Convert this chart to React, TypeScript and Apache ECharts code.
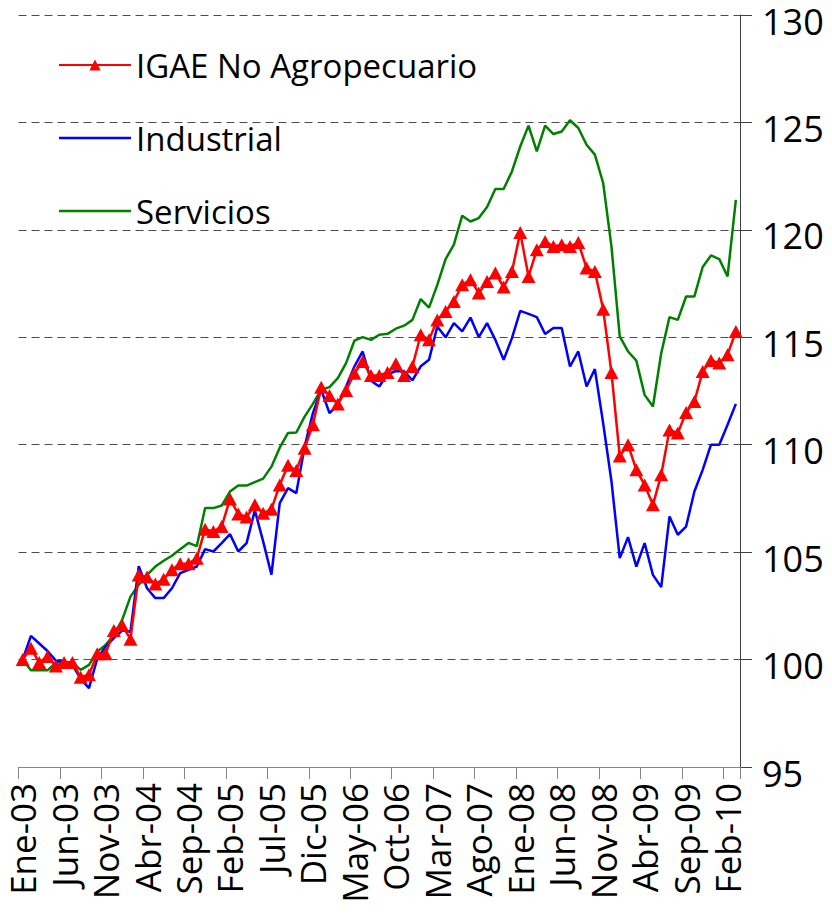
import React, { useEffect, useRef } from "react";
import * as echarts from "echarts";

const monthNames = ["Ene", "Feb", "Mar", "Abr", "May", "Jun", "Jul", "Ago", "Sep", "Oct", "Nov", "Dic"];
const yearSuffixes = ["03", "04", "05", "06", "07", "08", "09", "10"];
const categories: string[] = [];
for (const y of yearSuffixes) {
  for (const m of monthNames) {
    if (categories.length < 87) categories.push(`${m}-${y}`);
  }
}

const igae = [
  100.0, 100.53, 99.86, 100.14, 99.7, 99.86, 99.86, 99.18, 99.29, 100.27,
  100.27, 101.35, 101.6, 100.95, 103.94, 103.84, 103.52, 103.74, 104.18, 104.46,
  104.46, 104.72, 106.07, 105.96, 106.19, 107.47, 106.78, 106.63, 107.2, 106.81,
  107.0, 108.13, 109.04, 108.8, 109.84, 110.93, 112.68, 112.29, 111.9, 112.52,
  113.33, 113.87, 113.22, 113.22, 113.36, 113.77, 113.22, 113.64, 115.12, 114.88,
  115.81, 116.2, 116.67, 117.44, 117.68, 117.06, 117.6, 117.99, 117.34, 118.06,
  119.88, 117.83, 119.07, 119.46, 119.23, 119.31, 119.23, 119.41, 118.22, 118.06,
  116.31, 113.36, 109.48, 110.0, 108.83, 108.13, 107.2, 108.6, 110.69, 110.54,
  111.5, 112.01, 113.41, 113.92, 113.8, 114.19, 115.27,
];

const industrial = [
  100.0, 101.1, 100.75, 100.4, 99.95, 99.9, 99.75, 99.1, 98.67, 100.05,
  100.6, 101.0, 101.35, 101.3, 104.35, 103.32, 102.86, 102.86, 103.32, 104.02,
  104.18, 104.33, 105.14, 105.03, 105.42, 105.84, 105.03, 105.42, 106.95, 105.5,
  103.95, 107.28, 107.98, 107.75, 109.92, 111.47, 112.56, 111.47, 111.86, 112.7,
  113.64, 114.34, 112.98, 112.71, 113.28, 113.43, 113.41, 113.0, 113.65, 113.95,
  115.5, 115.0, 115.66, 115.27, 115.92, 115.01, 115.66, 114.88, 113.95, 114.96,
  116.23, 116.09, 115.94, 115.15, 115.43, 115.43, 113.64, 114.34, 112.71, 113.52,
  111.0, 108.3, 104.72, 105.7, 104.33, 105.42, 103.94, 103.37, 106.66, 105.81,
  106.19, 107.82, 108.83, 110.0, 110.0, 110.93, 111.9,
];

const servicios = [
  100.0, 99.5, 99.5, 99.5, 99.85, 99.9, 99.85, 99.52, 99.75, 100.37,
  100.68, 101.15, 101.85, 102.93, 103.48, 103.94, 104.33, 104.6, 104.83, 105.14,
  105.43, 105.28, 107.05, 107.05, 107.17, 107.82, 108.1, 108.1, 108.26, 108.42,
  108.98, 109.86, 110.55, 110.57, 111.31, 111.9, 112.56, 112.68, 113.1, 113.8,
  114.84, 115.01, 114.88, 115.12, 115.16, 115.4, 115.54, 115.81, 116.78, 116.38,
  117.44, 118.64, 119.31, 120.66, 120.39, 120.55, 121.06, 121.9, 121.9, 122.72,
  123.88, 124.85, 123.65, 124.85, 124.46, 124.58, 125.1, 124.74, 123.96, 123.5,
  122.18, 119.23, 115.04, 114.34, 113.91, 112.32, 111.78, 114.26, 115.94, 115.81,
  116.9, 116.9, 118.27, 118.81, 118.64, 117.83, 121.4,
];

const seriesNames = ["IGAE No Agropecuario", "Industrial", "Servicios"];
const yMin = 95;
const yMax = 130;
const yInterval = 5;

const FONT = "'Open Sans', 'Noto Sans', sans-serif";
// legend icon: a thin horizontal bar centred in a 72x14 box
const LINE_ICON =
  "path://M0,0L72,0L72,0.05L0,0.05ZM0,5.75L72,5.75L72,8.25L0,8.25ZM0,13.95L72,13.95L72,14L0,14Z";

export default function App() {
  const ref = useRef<HTMLDivElement>(null);

  useEffect(() => {
    if (!ref.current) return;
    const chart = echarts.init(ref.current, null, { renderer: "svg" });
    chart.setOption({
      animation: false,
      backgroundColor: "#ffffff",
      textStyle: { fontFamily: FONT },
      grid: { left: 18.5, right: 92, top: 15, bottom: 148, containLabel: false },
      legend: {
        orient: "vertical",
        left: 58,
        top: 45,
        padding: 0,
        itemWidth: 72,
        itemHeight: 14,
        itemGap: 33,
        data: [
          { name: seriesNames[0] },
          { name: seriesNames[1], icon: LINE_ICON, itemStyle: { color: "#0000ff" } },
          { name: seriesNames[2], icon: LINE_ICON, itemStyle: { color: "#008000" } },
        ],
        textStyle: { fontFamily: FONT, fontSize: 33, lineHeight: 40, color: "#000" },
      },
      xAxis: {
        type: "category",
        data: categories,
        boundaryGap: true,
        axisLine: { show: true, lineStyle: { color: "#868686", width: 1 } },
        axisTick: { show: true, length: 12, interval: 4, lineStyle: { color: "#868686" } },
        axisLabel: {
          interval: 4,
          rotate: 90,
          margin: 16,
          fontSize: 35,
          fontFamily: FONT,
          color: "#000",
        },
        splitLine: { show: false },
      },
      yAxis: {
        type: "value",
        position: "right",
        min: yMin,
        max: yMax,
        interval: yInterval,
        axisLine: { show: true, lineStyle: { color: "#404040", width: 1 } },
        axisTick: { show: true, length: 12, lineStyle: { color: "#404040" } },
        axisLabel: {
          fontSize: 36,
          fontFamily: FONT,
          color: "#000",
          margin: 22,
          verticalAlign: "top",
          lineHeight: 12,
        },
        splitLine: {
          show: true,
          lineStyle: { color: "#4d4d4d", width: 1, type: [8, 5] },
        },
      },
      series: [
        {
          name: seriesNames[2],
          type: "line",
          data: servicios,
          symbol: "none",
          lineStyle: { color: "#008000", width: 2.5 },
          itemStyle: { color: "#008000" },
          z: 2,
        },
        {
          name: seriesNames[1],
          type: "line",
          data: industrial,
          symbol: "none",
          lineStyle: { color: "#0000ff", width: 2.5 },
          itemStyle: { color: "#0000ff" },
          z: 3,
        },
        {
          name: seriesNames[0],
          type: "line",
          data: igae,
          symbol: "triangle",
          symbolSize: [14, 13],
          showAllSymbol: true,
          lineStyle: { color: "#ff0000", width: 2.5 },
          itemStyle: { color: "#ff0000" },
          z: 4,
        },
      ],
    });
    return () => chart.dispose();
  }, []);

  return (
    <div
      ref={ref}
      style={{ position: "absolute", left: 0, top: 0, width: 832, height: 915 }}
    />
  );
}
